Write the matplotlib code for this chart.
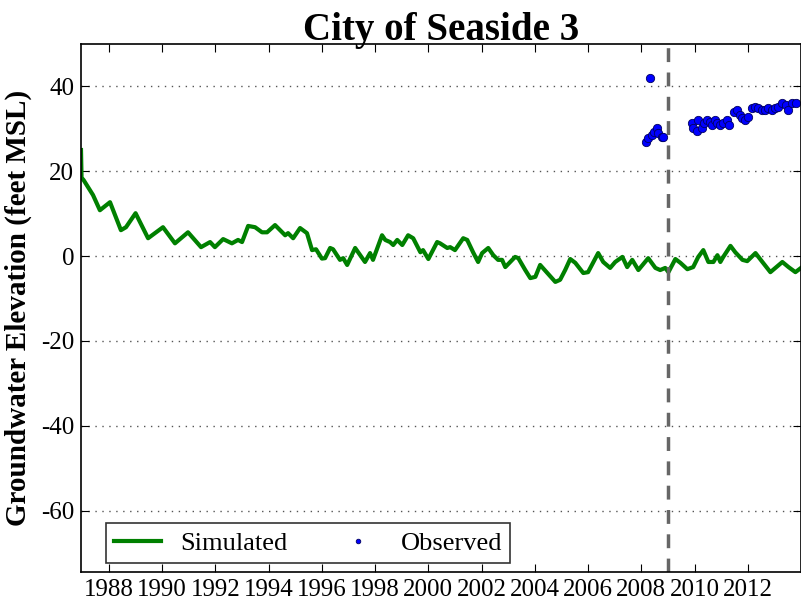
import matplotlib
import numpy as np

matplotlib.use('Agg')
from matplotlib import pyplot as plt

# simulated groundwater elevation (decimal year, feet MSL)
sim_years = [1986.95, 1986.97, 1987.05, 1987.4, 1987.66, 1988.04, 1988.45, 1988.64, 1989.0,
             1989.47, 1990.03, 1990.48, 1990.97, 1991.46, 1991.8, 1991.98, 1992.29, 1992.62,
             1992.85, 1993.0, 1993.23, 1993.49, 1993.75, 1993.94, 1994.24, 1994.62, 1994.73,
             1994.92, 1995.18, 1995.44, 1995.63, 1995.78, 1996.0, 1996.12, 1996.31, 1996.42,
             1996.68, 1996.8, 1996.95, 1997.25, 1997.62, 1997.81, 1997.92, 1998.26, 1998.38,
             1998.56, 1998.68, 1998.83, 1999.02, 1999.24, 1999.43, 1999.7, 1999.8, 2000.0,
             2000.33, 2000.44, 2000.71, 2000.82, 2001.0, 2001.31, 2001.46, 2001.68, 2001.87,
             2002.02, 2002.25, 2002.44, 2002.62, 2002.77, 2002.89, 2003.26, 2003.38, 2003.64,
             2003.83, 2004.02, 2004.2, 2004.47, 2004.77, 2004.95, 2005.14, 2005.33, 2005.52,
             2005.82, 2006.0, 2006.38, 2006.57, 2006.83, 2007.02, 2007.29, 2007.47, 2007.66,
             2007.89, 2008.26, 2008.53, 2008.71, 2008.9, 2009.02, 2009.28, 2009.47, 2009.73,
             2009.95, 2010.14, 2010.33, 2010.52, 2010.71, 2010.86, 2010.97, 2011.08, 2011.35,
             2011.53, 2011.8, 2011.98, 2012.29, 2012.55, 2012.85, 2013.3, 2013.53, 2013.79,
             2014.0]
sim_values = [25.0, 18.5, 17.9, 14.4, 10.8, 12.7, 6.1, 6.8, 10.1,
              4.2, 6.8, 3.0, 5.6, 2.1, 3.3, 2.1, 4.0, 3.0,
              3.8, 3.3, 7.1, 6.8, 5.6, 5.6, 7.3, 4.9, 5.4,
              4.2, 6.6, 5.4, 1.4, 1.6, -0.6, -0.5, 1.9, 1.6,
              -0.9, -0.5, -2.1, 1.9, -1.4, 0.7, -0.9, 4.9, 3.8,
              3.3, 2.6, 3.8, 2.6, 4.9, 4.2, 0.9, 1.4, -0.7,
              3.3, 3.0, 1.9, 2.1, 1.4, 4.2, 3.8, 0.9, -1.4,
              0.7, 1.9, 0.2, -0.9, -0.9, -2.6, -0.2, -0.5, -3.3,
              -5.2, -4.9, -2.1, -4.0, -6.1, -5.6, -3.3, -0.7, -1.6,
              -4.0, -3.8, 0.7, -1.4, -2.8, -1.4, -0.2, -2.6, -0.9,
              -3.3, -0.5, -2.8, -3.3, -2.8, -3.8, -0.7, -1.6, -3.1,
              -2.6, -0.2, 1.4, -1.4, -1.4, 0.2, -1.4, -0.2, 2.4,
              0.9, -0.9, -1.2, 0.7, -1.4, -3.8, -1.4, -2.6, -3.8,
              -2.8]

# observed groundwater elevation
obs_years = [2008.19, 2008.26, 2008.34, 2008.41, 2008.49, 2008.6, 2008.64, 2008.79, 2008.83,
             2009.92, 2009.95, 2010.11, 2010.14, 2010.29, 2010.37, 2010.48, 2010.59, 2010.67,
             2010.78, 2010.86, 2010.97, 2011.08, 2011.23, 2011.31, 2011.5, 2011.61, 2011.69,
             2011.8, 2011.91, 2012.02, 2012.17, 2012.29, 2012.4, 2012.55, 2012.66, 2012.77,
             2012.92, 2013.04, 2013.15, 2013.3, 2013.42, 2013.53, 2013.68, 2013.8]
obs_values = [26.8, 27.8, 42.1, 28.5, 29.2, 30.1, 28.9, 28.0, 28.0,
              31.3, 30.1, 29.6, 32.0, 30.1, 31.3, 32.0, 31.5, 30.8,
              32.0, 31.3, 30.8, 31.3, 32.0, 30.8, 33.9, 34.4, 33.2,
              32.5, 32.0, 32.7, 34.8, 35.1, 34.8, 34.4, 34.4, 34.8,
              34.4, 34.8, 35.1, 36.0, 35.5, 34.4, 36.0, 36.0]

split_year = 2009.0
year_ticks = list(range(1988, 2014, 2))
elev_ticks = [-60, -40, -20, 0, 20, 40]

plt.rcParams['font.family'] = ['Liberation Serif', 'DejaVu Serif']
plt.rcParams['axes.unicode_minus'] = False

fig = plt.figure(figsize=(8.01, 6.05), dpi=100)
ax = fig.add_axes([81 / 801, 1 - 572 / 605, 720 / 801, 528 / 605])

ax.plot(sim_years, sim_values, color='green', linewidth=3, label='Simulated')
ax.plot(obs_years, obs_values, linestyle='none', marker='o', markersize=6,
        markerfacecolor='blue', markeredgecolor='#000060', markeredgewidth=0.6, label='Observed')
ax.axvline(split_year, color='#666666', linewidth=2.5, linestyle=(0, (4, 3)))

ax.set_xlim(1986.95, 2014.0)
ax.set_ylim(-74.5, 50)
ax.set_xticks(year_ticks)
ax.set_yticks(elev_ticks)
ax.tick_params(direction='in', top=True, right=True, labelsize=18, length=6, pad=5)
ax.yaxis.grid(True, color='#555555', linestyle=(0, (1, 4)), linewidth=1)
for s in ax.spines.values():
    s.set_linewidth(1.2)

ax.set_title('City of Seaside 3', fontsize=28, fontweight='bold', pad=3)
ax.set_ylabel('Groundwater Elevation (feet MSL)', fontsize=21, fontweight='bold', labelpad=6)

leg = ax.legend(loc='lower left', ncol=2, fontsize=19, frameon=True, fancybox=False,
                markerscale=0.55, numpoints=1, columnspacing=1.8, handlelength=1.8,
                handletextpad=0.7, borderpad=0.3, borderaxespad=0.35,
                bbox_to_anchor=(0.022, 0.0))
leg.get_frame().set_edgecolor('black')
leg.get_frame().set_linewidth(1.2)

fig.savefig('out.png', dpi=100)
